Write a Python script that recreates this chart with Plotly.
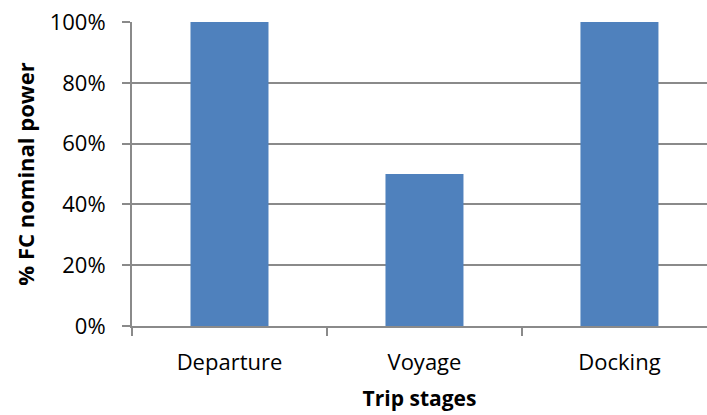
import plotly.graph_objects as go

categories = ["Departure", "Voyage", "Docking"]
values = [100, 50, 100]
y_ticks = [0, 20, 40, 60, 80, 100]
y_tick_labels = ["0%", "20%", "40%", "60%", "80%", "100%"]

bar_color = "#4F81BD"
grid_color = "#8A8A8A"
font_family = "Open Sans"

fig = go.Figure(go.Bar(
    x=categories, y=values, width=0.4,
    marker=dict(color=bar_color, line=dict(width=0)),
))

fig.update_layout(
    width=707, height=415,
    margin=dict(l=132, r=0, t=22, b=89),
    paper_bgcolor="white", plot_bgcolor="white",
    font=dict(family=font_family, size=22, color="black"),
    showlegend=False,
    bargap=0.6,
)
fig.update_xaxes(
    type="category", range=[-0.5, 2.449],
    showline=True, linecolor=grid_color, linewidth=2,
    ticks="outside", tickson="boundaries", ticklen=8, tickcolor=grid_color, tickwidth=2,
    showgrid=False, ticklabelstandoff=16,
    title=dict(text="<b>Trip stages</b>", font=dict(size=21), standoff=16),
)
fig.update_yaxes(
    range=[0, 100], tickvals=y_ticks, ticktext=y_tick_labels,
    showline=True, linecolor=grid_color, linewidth=2,
    ticks="outside", ticklen=8, tickcolor=grid_color, tickwidth=2,
    showgrid=True, gridcolor=grid_color, gridwidth=2, zeroline=False,
    ticklabelstandoff=12,
    title=dict(text="<b>% FC nominal power</b>", font=dict(size=22), standoff=9),
)

fig.write_html("out.html")
